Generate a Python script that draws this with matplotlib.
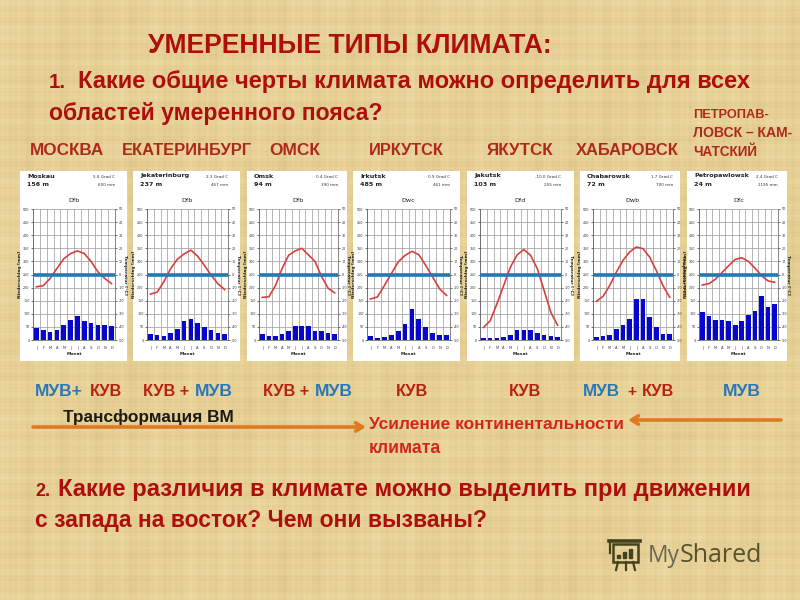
import numpy as np
import matplotlib
matplotlib.use("Agg")
import matplotlib.pyplot as plt
from matplotlib.patches import Rectangle

months = ["J", "F", "M", "A", "M", "J", "J", "A", "S", "O", "N", "D"]
stations = ["Moskau", "Jekaterinburg", "Omsk", "Irkutsk", "Jakutsk", "Chabarowsk", "Petropawlowsk"]
heights = ["156 m", "237 m", "94 m", "485 m", "103 m", "72 m", "24 m"]
mean_temp = ["5.8 Grad C", "2.3 Grad C", "0.4 Grad C", "0.9 Grad C", "-10.0 Grad C", "1.7 Grad C", "2.4 Grad C"]
annual_rain = ["600 mm", "467 mm", "390 mm", "461 mm", "255 mm", "700 mm", "1195 mm"]
climate = ["Dfb", "Dfb", "Dfb", "Dwc", "Dfd", "Dwb", "Dfc"]

temp_moscow = [-9.4, -8.5, -3, 4.6, 12, 16, 18, 16, 10, 2, -3, -7]
temp_ekb = [-15, -13.5, -5.5, 4.5, 11.7, 15.7, 18.6, 14, 7, -0.5, -7, -11.5]
temp_omsk = [-17.5, -17, -8.5, 4.5, 14.7, 18, 20, 15, 10, -1.5, -10.5, -14]
temp_irkutsk = [-18.7, -17.2, -8.5, 0.5, 9.5, 14.6, 17.7, 15.1, 6.9, -2, -11, -16]
temp_yakutsk = [-40.5, -35.4, -22.5, -8.5, 5.6, 15, 19, 14.6, 4.4, -12.3, -29, -38.7]
temp_khab = [-20.5, -16.7, -8.5, 1.8, 10.8, 17.2, 21, 19.7, 13.3, 3, -8.5, -17.4]
temp_petro = [-8, -7, -3.6, 1.5, 6.7, 11.5, 12.8, 10, 4.9, -1, -4.9, -6]

rain_moscow = [46, 37, 32, 40, 58, 77, 93, 73, 65, 57, 58, 52]
rain_ekb = [23, 20, 15, 27, 43, 72, 80, 65, 50, 40, 27, 22]
rain_omsk = [23, 15, 15, 22, 33, 55, 55, 55, 33, 33, 27, 22]
rain_irkutsk = [15, 8, 12, 18, 33, 62, 120, 80, 48, 28, 18, 18]
rain_yakutsk = [8, 6, 6, 10, 18, 37, 38, 37, 27, 18, 16, 12]
rain_khab = [12, 14, 18, 42, 58, 80, 155, 155, 88, 50, 22, 22]
rain_petro = [106, 90, 77, 78, 73, 58, 74, 96, 110, 168, 126, 137]

temps = [temp_moscow, temp_ekb, temp_omsk, temp_irkutsk, temp_yakutsk, temp_khab, temp_petro]
rains = [rain_moscow, rain_ekb, rain_omsk, rain_irkutsk, rain_yakutsk, rain_khab, rain_petro]

white_boxes = [(20, 127), (133, 240), (247, 347), (353, 460), (467, 574), (580, 680), (687, 787)]
plot_boxes = [(33, 115), (147, 228), (259, 338), (367, 450), (480, 561), (593, 673), (699, 778)]

FONT = "Liberation Sans"
RED = "#ad0f0c"
CITY = "#ad2a18"
BLUE = "#2878b8"
KUV = "#b8200f"
ORANGE = "#df7a22"

fig = plt.figure(figsize=(8, 6), dpi=100)
bg = fig.add_axes([0, 0, 1, 1], zorder=0)
bg.set_xlim(0, 800)
bg.set_ylim(600, 0)
bg.axis("off")

# parchment background (plain woven pattern, decorative only)
yy, xx = np.mgrid[0:600, 0:800]
weave = (np.sin(xx * 1.1) * 0.3 + np.sin(xx * 0.37 + 0.4) * 0.35 + np.sin(xx * 0.173) * 0.3
         + np.sin(yy * 1.7) * 0.25 + np.sin(yy * 0.53) * 0.35 + np.sin(yy * 0.211 + 1) * 0.3
         + np.sin(xx * 0.043 + yy * 0.031) * 0.25)
base = np.array([230, 208, 150]) / 255
tex = np.clip(base[None, None, :] + weave[..., None] * np.array([0.020, 0.024, 0.032]), 0, 1)
bg.imshow(tex, extent=(0, 800, 600, 0), aspect="auto", interpolation="bilinear", zorder=0)

renderer = fig.canvas.get_renderer()


def fit(text, x0, x1, base_y, color, weight="bold", family=FONT):
    t = bg.text(x0, base_y, text, color=color, fontsize=12, fontweight=weight,
                family=family, ha="left", va="baseline", zorder=5)
    w = t.get_window_extent(renderer).width
    t.set_fontsize(12 * (x1 - x0) / w)
    return t


fit("УМЕРЕННЫЕ ТИПЫ КЛИМАТА:", 148, 552, 53, RED)
fit("1.", 49, 66, 88, RED)
fit("Какие общие черты климата можно определить для всех", 78, 747, 88, RED)
fit("областей умеренного пояса?", 49, 382, 120, RED)

for txt, x0, x1 in [("МОСКВА", 30, 104), ("ЕКАТЕРИНБУРГ", 122, 252), ("ОМСК", 269, 320),
                    ("ИРКУТСК", 369, 444), ("ЯКУТСК", 487, 553), ("ХАБАРОВСК", 576, 679)]:
    fit(txt, x0, x1, 155, CITY)
fit("ПЕТРОПАВ-", 693, 768, 118, CITY)
fit("ЛОВСК – КАМ-", 693, 792, 137, CITY)
fit("ЧАТСКИЙ", 693, 757, 156, CITY)

for txt, x0, x1, col in [("МУВ+", 35, 83, BLUE), ("КУВ", 90, 122, KUV),
                         ("КУВ +", 143, 189, KUV), ("МУВ", 195, 233, BLUE),
                         ("КУВ +", 263, 309, KUV), ("МУВ", 315, 353, BLUE),
                         ("КУВ", 396, 428, KUV), ("КУВ", 509, 541, KUV),
                         ("МУВ", 583, 620, BLUE), ("+", 627, 636, KUV), ("КУВ", 642, 674, KUV),
                         ("МУВ", 723, 761, BLUE)]:
    fit(txt, x0, x1, 396, col)

fit("Трансформация ВМ", 63, 233, 422, "#1c1a12")
fit("Усиление континентальности", 369, 623, 429, "#d2261c")
fit("климата", 369, 441, 453, "#d2261c")

fit("2.", 35, 50, 496, RED)
fit("Какие различия в климате можно выделить при движении", 58, 748, 496, RED)
fit("с запада на восток? Чем они вызваны?", 35, 485, 527, RED)

for start, end in [((33, 427), (366, 427)), ((781, 420), (628, 420))]:
    bg.annotate("", xy=end, xytext=start, zorder=5,
                arrowprops=dict(arrowstyle="->,head_length=0.5,head_width=0.3", color=ORANGE, lw=2.6,
                                shrinkA=0, shrinkB=0))

# logo
LOGO = "#45421f"
bg.add_patch(Rectangle((613, 544), 25, 18, fill=False, ec=LOGO, lw=1.8, zorder=5))
bg.plot([609, 640], [541, 541], color=LOGO, lw=2.6, zorder=5)
bg.plot([610, 610], [541, 553], color=LOGO, lw=1.6, zorder=5)
bg.plot([618, 616], [562, 570], color=LOGO, lw=1.6, zorder=5)
bg.plot([625.5, 625.5], [562, 570], color=LOGO, lw=1.6, zorder=5)
bg.plot([633, 635], [562, 570], color=LOGO, lw=1.6, zorder=5)
bg.add_patch(Rectangle((617, 555), 3, 3, color=LOGO, zorder=5))
bg.add_patch(Rectangle((623, 552), 3, 6, color=LOGO, zorder=5))
bg.add_patch(Rectangle((629, 549), 3, 9, color=LOGO, zorder=5))
fit("My", 648, 680, 562, "#6a6558", weight="normal", family="Open Sans")
fit("Shared", 680, 762, 562, "#56532c", weight="normal", family="Open Sans")

PX = 800.0
PY = 600.0
TOP, BOTTOM = 209, 340
for i in range(7):
    wx0, wx1 = white_boxes[i]
    px0, px1 = plot_boxes[i]
    bg.add_patch(Rectangle((wx0, 171), wx1 - wx0, 190, fc="white", ec="none", zorder=2))
    bg.text(wx0 + 7, 176, stations[i], fontsize=4.6, color="#222222", family="DejaVu Sans",
            fontweight="bold", va="center", ha="left", zorder=3)
    bg.text(wx0 + 7, 184, heights[i], fontsize=4.6, color="#222222", family="DejaVu Sans",
            fontweight="bold", va="center", ha="left", zorder=3)
    bg.text(px1 + 0, 177, mean_temp[i], fontsize=3, color="#333333", family="DejaVu Sans",
            va="center", ha="right", zorder=3)
    bg.text(px1 + 0, 185, annual_rain[i], fontsize=3, color="#333333", family="DejaVu Sans",
            va="center", ha="right", zorder=3)
    bg.text((px0 + px1) / 2, 201, climate[i], fontsize=4.6, color="#222222", family="DejaVu Sans",
            va="center", ha="center", zorder=3)

    ax = fig.add_axes([px0 / PX, 1 - BOTTOM / PY, (px1 - px0) / PX, (BOTTOM - TOP) / PY], zorder=3)
    ax.patch.set_alpha(0)
    x = np.arange(1, 13)
    ax.set_xlim(0.5, 12.5)
    ax.set_ylim(0, 500)
    ax.bar(x, rains[i], width=0.7, color="#0606d0", zorder=3)
    ax.set_xticks(np.arange(0.5, 13))
    ax.set_xticklabels([])
    ax.set_xticks(x, minor=True)
    ax.set_xticklabels(months, minor=True, fontsize=2.6, color="#333366")
    ax.tick_params(axis="x", which="both", length=0, pad=4)
    ax.set_yticks(np.arange(0, 501, 50))
    ax.set_yticklabels([str(v) for v in range(0, 501, 50)], fontsize=2.4, color="#333333")
    ax.tick_params(axis="y", length=1.5, width=0.4, pad=1)
    ax.grid(True, which="major", color="#a0a0a0", lw=0.55, zorder=0)
    ax.set_axisbelow(True)
    ax.set_ylabel("Niederschlag [mm]", fontsize=3.2, fontweight="bold", labelpad=0.5, color="#222222")
    ax.set_xlabel("Monat", fontsize=3.2, fontweight="bold", labelpad=1.5, color="#222222")
    for s in ["top", "right"]:
        ax.spines[s].set_visible(False)
    for s in ["left", "bottom"]:
        ax.spines[s].set_linewidth(0.5)
        ax.spines[s].set_color("#555555")

    ax2 = ax.twinx()
    ax2.set_ylim(-50, 50)
    ax2.plot(x, temps[i], color="#d8403a", lw=1.2, zorder=4)
    ax2.axhline(0, color="#1f7ab8", lw=2.6, zorder=5)
    ax2.set_yticks(np.arange(-50, 51, 10))
    ax2.set_yticklabels([str(v) for v in range(-50, 51, 10)], fontsize=2.4, color="#333333")
    ax2.tick_params(axis="y", length=1.5, width=0.4, pad=1)
    ax2.set_ylabel("Temperatur [°C]", fontsize=3.2, fontweight="bold", rotation=270,
                   labelpad=2.5, color="#222222")
    for s in ["top", "left", "bottom"]:
        ax2.spines[s].set_visible(False)
    ax2.spines["right"].set_linewidth(0.5)
    ax2.spines["right"].set_color("#555555")

fig.savefig("out.png", dpi=100)
